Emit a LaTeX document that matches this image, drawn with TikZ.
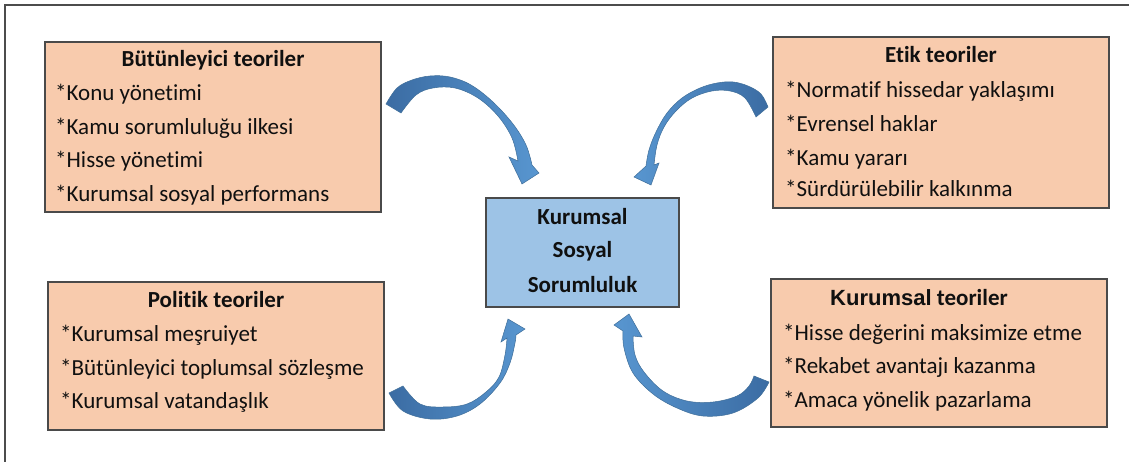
\documentclass[tikz,border=0pt]{standalone}
\usepackage{fontspec}
\setmainfont{Carlito}[Ligatures=NoCommon]
\newfontfamily\arialf{Liberation Sans}
\definecolor{boxfill}{HTML}{F8CBAD}
\definecolor{cfill}{HTML}{9DC3E6}
\definecolor{boxline}{HTML}{4A4A4A}
\definecolor{adark}{HTML}{3B6CA3}
\definecolor{alight}{HTML}{5896D0}
\definecolor{aedge}{HTML}{3F6E99}
\definecolor{txtc}{HTML}{101010}
\tikzset{
  obox/.style={draw=boxline, line width=1.3pt, fill=boxfill, inner sep=0pt},
  cbox/.style={draw=boxline, line width=1.3pt, fill=cfill, inner sep=0pt},
  txt/.style={inner sep=0pt, text=txtc, font=\fontsize{23}{28}\selectfont},
  ttl/.style={txt, font=\fontsize{23}{28}\selectfont\bfseries},
  blockarrow/.style={draw=aedge, line width=0.5pt},
  frameline/.style={draw=black!70, line width=1.3pt}
}
\begin{document}
\begin{tikzpicture}[x=1pt,y=-1pt]
\useasboundingbox (0,0) rectangle (1129,462);
\draw[frameline] (5,462) -- (5,5) -- (1129,5);

% boxes
\node[obox, minimum width=336pt, minimum height=170pt] (b1) at (213,127) {};
\node[obox, minimum width=336pt, minimum height=171pt] (b2) at (941,122.5) {};
\node[obox, minimum width=336pt, minimum height=148pt] (b3) at (216,356) {};
\node[obox, minimum width=336pt, minimum height=148pt] (b4) at (939,353) {};
\node[cbox, minimum width=193pt, minimum height=109pt] (c) at (582.5,252.5) {};

% top-left texts
\node[ttl, anchor=base] (b1t) at (213,67) {Bütünleyici teoriler};
\node[txt, anchor=base west] (b1a) at (55,101) {*Konu yönetimi};
\node[txt, anchor=base west] (b1b) at (55,135) {*Kamu sorumluluğu ilkesi};
\node[txt, anchor=base west] (b1c) at (55,168) {*Hisse yönetimi};
\node[txt, anchor=base west] (b1d) at (55,202) {*Kurumsal sosyal performans};

% top-right texts
\node[ttl, anchor=base] (b2t) at (941,63) {Etik teoriler};
\node[txt, anchor=base west] (b2a) at (785,98) {*Normatif hissedar yaklaşımı};
\node[txt, anchor=base west] (b2b) at (785,132) {*Evrensel haklar};
\node[txt, anchor=base west] (b2c) at (785,166) {*Kamu yararı};
\node[txt, anchor=base west] (b2d) at (785,197) {*Sürdürülebilir kalkınma};

% bottom-left texts
\node[ttl, anchor=base] (b3t) at (216,307) {Politik teoriler};
\node[txt, anchor=base west] (b3a) at (60,341) {*Kurumsal meşruiyet};
\node[txt, anchor=base west] (b3b) at (60,375) {*Bütünleyici toplumsal sözleşme};
\node[txt, anchor=base west] (b3c) at (60,408) {*Kurumsal vatandaşlık};

% bottom-right texts
\node[ttl, anchor=base west] (b4t) at (830,305) {{\arialf\fontsize{22}{28}\selectfont\bfseries Kurumsal} teoriler};
\node[txt, anchor=base west] (b4a) at (783,340) {*Hisse değerini maksimize etme};
\node[txt, anchor=base west] (b4b) at (783,373) {*Rekabet avantajı kazanma};
\node[txt, anchor=base west] (b4c) at (783,407) {*Amaca yönelik pazarlama};

% center texts
\node[ttl, anchor=base] (ct1) at (582.5,225) {Kurumsal};
\node[ttl, anchor=base] (ct2) at (582.5,258) {Sosyal};
\node[ttl, anchor=base] (ct3) at (582.5,292) {Sorumluluk};

% curved block arrows
\shadedraw[blockarrow, left color=adark, right color=alight]
  plot[smooth, tension=0.6] coordinates {(386,104) (397,88) (412,80) (430,76) (450,77) (471,85) (493,102) (513,124) (526,145) (532,165)}
  -- (539,173) -- (522,184) -- (509,157)
  -- plot[smooth, tension=0.6] coordinates {(518,161) (512,138) (498,116) (478,98) (455,88) (433,88) (416,95) (401,113)}
  -- cycle;

\shadedraw[blockarrow, left color=alight, right color=adark]
  plot[smooth, tension=0.6] coordinates {(768,107) (761,94) (748,86) (733,82) (717,83) (700,88) (682,98) (667,113) (656,132) (649,150) (646,166)}
  -- (634,177) -- (651,185) -- (659,163)
  -- plot[smooth, tension=0.6] coordinates {(654,165) (657,145) (664,127) (676,111) (692,98) (712,91) (730,91) (745,98) (756,117)}
  -- cycle;

\shadedraw[blockarrow, left color=adark, right color=alight]
  plot[smooth, tension=0.6] coordinates {(389,393) (403,411) (430,419) (457,416) (480,404) (500,383) (510,363) (515,343) (516,335)}
  -- (525,329) -- (508,319) -- (501,342)
  -- plot[smooth, tension=0.6] coordinates {(507,338) (505,355) (499,377) (486,392) (467,404) (443,407) (420,404) (403,386)}
  -- cycle;

\shadedraw[blockarrow, left color=alight, right color=adark]
  plot[smooth, tension=0.6] coordinates {(769,382) (758,398) (733,413) (703,416) (677,408) (653,394) (633,373) (624,348) (623,331)}
  -- (614,325) -- (629,314) -- (642,337)
  -- plot[smooth, tension=0.6] coordinates {(633,336) (635,355) (644,372) (663,391) (687,401) (713,402) (737,396) (749,386) (754,376)}
  -- cycle;
\end{tikzpicture}
\end{document}
